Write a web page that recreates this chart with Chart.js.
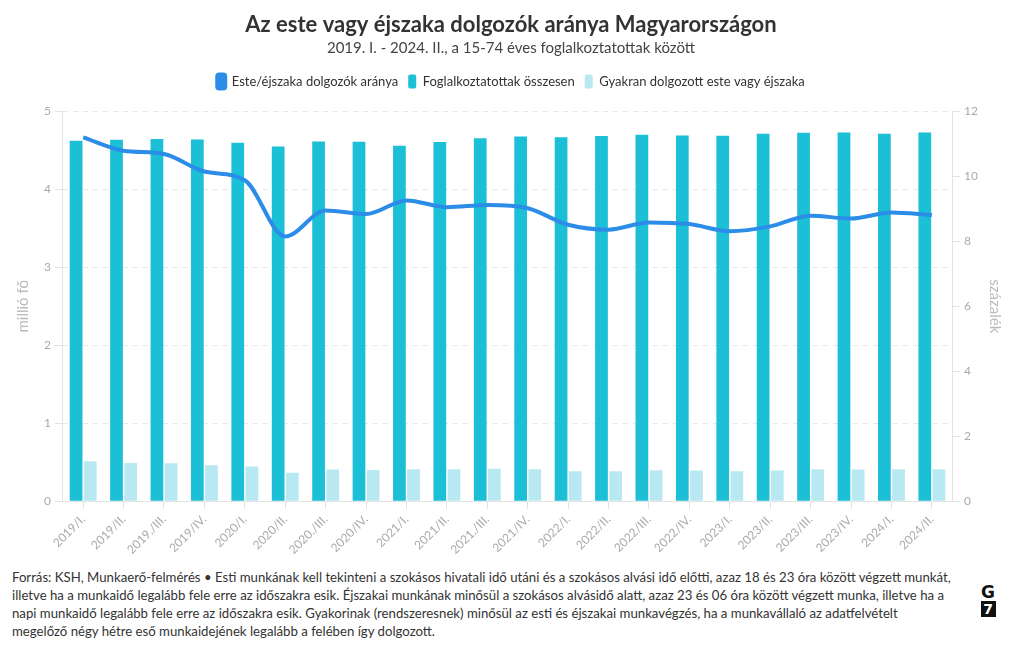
<!DOCTYPE html>
<html><head><meta charset="utf-8">
<script src="https://cdn.jsdelivr.net/npm/chart.js@4.4.1/dist/chart.umd.min.js"></script>
<style>
html,body{margin:0;padding:0;background:#fff;width:1020px;height:650px;overflow:hidden;font-family:Lato,"Noto Sans",sans-serif;}
#wrap{position:absolute;left:0;top:0;width:1020px;height:560px;}
#foot{position:absolute;left:12px;top:568px;width:960px;font-size:13.2px;line-height:18px;color:#333;white-space:nowrap;}
#logo{position:absolute;left:980px;top:583px;width:16px;text-align:center;font-family:"DejaVu Sans",sans-serif;font-weight:bold;}
#logo .g{font-size:17px;line-height:18px;color:#111;}
#logo .s{display:block;background:#111;color:#fff;font-size:14px;line-height:16px;width:15px;margin:0 auto;}
</style></head>
<body>
<div id="wrap"><canvas id="c"></canvas></div>
<div id="foot">Forrás: KSH, Munkaerő-felmérés • Esti munkának kell tekinteni a szokásos hivatali idő utáni és a szokásos alvási idő előtti, azaz 18 és 23 óra között végzett munkát,<br>illetve ha a munkaidő legalább fele erre az időszakra esik. Éjszakai munkának minősül a szokásos alvásidő alatt, azaz 23 és 06 óra között végzett munka, illetve ha a<br>napi munkaidő legalább fele erre az időszakra esik. Gyakorinak (rendszeresnek) minősül az esti és éjszakai munkavégzés, ha a munkavállaló az adatfelvételt<br>megelőző négy hétre eső munkaidejének legalább a felében így dolgozott.</div>
<div id="logo"><div class="g">G</div><span class="s">7</span></div>
<script>
const categories = ["2019/I.","2019/II.","2019./III.","2019/IV.","2020/I.","2020/II.","2020./III.","2020/IV.","2021/I.","2021/II.","2021./III.","2021/IV.","2022/I.","2022/II.","2022/III.","2022/IV.","2023/I.","2023/II.","2023/III.","2023/IV.","2024/I.","2024/II."];
const shareNight = [11.2,10.79,10.69,10.15,9.88,8.15,8.95,8.84,9.26,9.05,9.12,9.02,8.51,8.36,8.58,8.53,8.31,8.46,8.79,8.70,8.89,8.81];
const employedTotal = [4.624,4.637,4.645,4.640,4.598,4.551,4.615,4.611,4.560,4.607,4.654,4.679,4.667,4.684,4.700,4.692,4.688,4.713,4.726,4.730,4.713,4.730];
const frequentNight = [0.513,0.491,0.487,0.462,0.444,0.363,0.406,0.400,0.410,0.410,0.415,0.410,0.385,0.385,0.397,0.393,0.385,0.393,0.410,0.406,0.410,0.410];
const leftTicks = [0,1,2,3,4,5];
const rightTicks = [0,2,4,6,8,10,12];

const FONT = 'Lato';
const tickColor = '#aaaaaa';
const legendSpace = {
  id:'legendSpace',
  beforeInit(chart){
    const lg = chart.legend;
    const orig = lg.fit;
    lg.fit = function(){ orig.call(this); this.height += 13; };
  }
};
new Chart(document.getElementById('c'), {
  type: 'bar',
  plugins:[legendSpace],
  data: {
    labels: categories,
    datasets: [
      {type:'line', label:'Este/éjszaka dolgozók aránya', data: shareNight, yAxisID:'y1',
       borderColor:'#2b8de8', backgroundColor:'#2b8de8', borderWidth:4, pointRadius:0, tension:0.4,
       cubicInterpolationMode:'monotone'},
      {label:'Foglalkoztatottak összesen', data: employedTotal, yAxisID:'y',
       backgroundColor:'#1bbfd6', categoryPercentage:0.7, barPercentage:0.9},
      {label:'Gyakran dolgozott este vagy éjszaka', data: frequentNight, yAxisID:'y',
       backgroundColor:'#b8e8f1', categoryPercentage:0.7, barPercentage:0.9}
    ]
  },
  options: {
    responsive:true, maintainAspectRatio:false, animation:false,
    layout:{padding:{left:10,right:8,top:8,bottom:0}},
    plugins:{
      title:{display:true, text:'Az este vagy éjszaka dolgozók aránya Magyarországon', color:'#333',
        font:{family:FONT, size:22, weight:'bold'}, padding:{top:4,bottom:1}},
      subtitle:{display:true, text:'2019. I. - 2024. II., a 15-74 éves foglalkoztatottak között', color:'#444',
        font:{family:FONT, size:15}, padding:{bottom:7}},
      legend:{position:'top', labels:{boxWidth:8, boxHeight:14, useBorderRadius:true, borderRadius:2,
        color:'#333', font:{family:FONT, size:13}, padding:10}},
      tooltip:{enabled:false}
    },
    scales:{
      x:{grid:{display:true, drawOnChartArea:false, offset:false, color:'#e3e3e3', tickLength:8},
         border:{display:true, color:'#e3e3e3'},
         ticks:{color:tickColor, font:{family:FONT, size:12}, maxRotation:45, minRotation:45, autoSkip:false}},
      y:{position:'left', min:0, max:5,
         afterBuildTicks: s => { s.ticks = leftTicks.map(v=>({value:v})); },
         grid:{color:'#e8e8e8', tickColor:'#e3e3e3', tickLength:8},
         border:{display:true, color:'#e3e3e3', dash:[5,5]},
         ticks:{color:tickColor, font:{family:FONT, size:12}, padding:4},
         title:{display:true, text:'millió fő', color:'#bbbbbb', font:{family:FONT, size:15}, padding:{bottom:8}}},
      y1:{position:'right', min:0, max:12,
         afterBuildTicks: s => { s.ticks = rightTicks.map(v=>({value:v})); },
         grid:{drawOnChartArea:false, color:'#e3e3e3', tickLength:8},
         border:{display:true, color:'#e3e3e3'},
         ticks:{color:tickColor, font:{family:FONT, size:12}, padding:4},
         title:{display:true, text:'százalék', color:'#bbbbbb', font:{family:FONT, size:15}, padding:{top:8}}}
    }
  }
});
</script>
</body></html>
